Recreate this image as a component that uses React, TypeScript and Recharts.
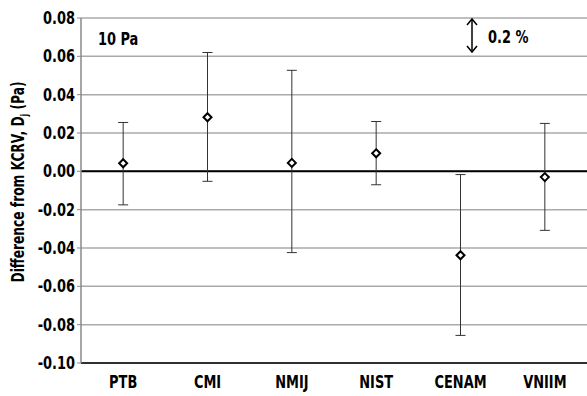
import React from "react";
import {
  ComposedChart,
  Line,
  ErrorBar,
  XAxis,
  YAxis,
  CartesianGrid,
  ReferenceLine,
} from "recharts";

const labs = ["PTB", "CMI", "NMIJ", "NIST", "CENAM", "VNIIM"];
const diffs = [0.0042, 0.0282, 0.0044, 0.0094, -0.0438, -0.003];
const upper = [0.0255, 0.062, 0.0527, 0.026, -0.0017, 0.025];
const lower = [-0.0175, -0.0052, -0.0424, -0.007, -0.0856, -0.0308];
const yTicks = [-0.1, -0.08, -0.06, -0.04, -0.02, 0, 0.02, 0.04, 0.06, 0.08];

const data = labs.map((lab, i) => ({
  lab,
  d: diffs[i],
  err: [diffs[i] - lower[i], upper[i] - diffs[i]],
}));

const FONT = "'DejaVu Sans Condensed', 'Liberation Sans Narrow', sans-serif";
const SX = 0.8;

// narrow bold label, squeezed horizontally to mimic a condensed face
function Narrow({ x, y, anchor = "start", size = 18, children }: any) {
  return (
    <text
      transform={`translate(${x},${y}) scale(${SX},1)`}
      textAnchor={anchor}
      fontFamily={FONT}
      fontWeight="bold"
      fontSize={size}
      fill="#000"
    >
      {children}
    </text>
  );
}

function Diamond(props: any) {
  const { cx, cy } = props;
  if (cx == null || cy == null) return null;
  const r = 4;
  return (
    <polygon
      points={`${cx},${cy - r} ${cx + r},${cy} ${cx},${cy + r} ${cx - r},${cy}`}
      fill="#fff"
      stroke="#000"
      strokeWidth={2}
    />
  );
}

function YTick(props: any) {
  const { x, y, payload } = props;
  return (
    <Narrow x={x} y={y + 6} anchor="end">
      {Number(payload.value).toFixed(2)}
    </Narrow>
  );
}

function XTick(props: any) {
  const { x, y, payload } = props;
  return (
    <Narrow x={x} y={y + 17} anchor="middle">
      {payload.value}
    </Narrow>
  );
}

function YTitle() {
  const x = 24;
  const y = 182;
  return (
    <text
      transform={`translate(${x},${y}) rotate(-90) scale(${SX},1)`}
      textAnchor="middle"
      fontFamily={FONT}
      fontWeight="bold"
      fontSize={17}
      fill="#000"
    >
      Difference from KCRV, D
      <tspan fontSize={11} dy={4}>j</tspan>
      <tspan dy={-4}> (Pa)</tspan>
    </text>
  );
}

export default function App() {
  return (
    <div style={{ position: "absolute", left: 0, top: 0, width: 587, height: 396, background: "#fff" }}>
      <ComposedChart
        width={587}
        height={396}
        data={data}
        margin={{ top: 18, right: 0, bottom: 0, left: 0 }}
      >
        <CartesianGrid vertical={false} stroke="#aaa" strokeWidth={1.5} />
        <XAxis
          dataKey="lab"
          scale="band"
          height={33}
          axisLine={{ stroke: "#000", strokeWidth: 1.5 }}
          tickLine={false}
          tick={<XTick />}
        />
        <YAxis
          domain={[-0.1, 0.08]}
          ticks={yTicks}
          width={81}
          axisLine={{ stroke: "#888", strokeWidth: 1.5 }}
          tickLine={{ stroke: "#888" }}
          tickSize={4}
          tick={<YTick />}
          label={<YTitle />}
        />
        <ReferenceLine y={0} stroke="#000" strokeWidth={2} />
        <Line
          dataKey="d"
          stroke="none"
          isAnimationActive={false}
          dot={<Diamond />}
          activeDot={false}
        >
          <ErrorBar dataKey="err" width={5} stroke="#333" strokeWidth={1} direction="y" />
        </Line>
      </ComposedChart>
      <svg
        width={587}
        height={396}
        style={{ position: "absolute", left: 0, top: 0, pointerEvents: "none" }}
      >
        <Narrow x={98} y={45}>10 Pa</Narrow>
        <g stroke="#000" strokeWidth={1.5} fill="none">
          <line x1={472} y1={19} x2={472} y2={52} />
          <polyline points="467,25 472,19 477,25" />
          <polyline points="467,46 472,52 477,46" />
        </g>
        <Narrow x={488} y={43}>0.2 %</Narrow>
      </svg>
    </div>
  );
}
